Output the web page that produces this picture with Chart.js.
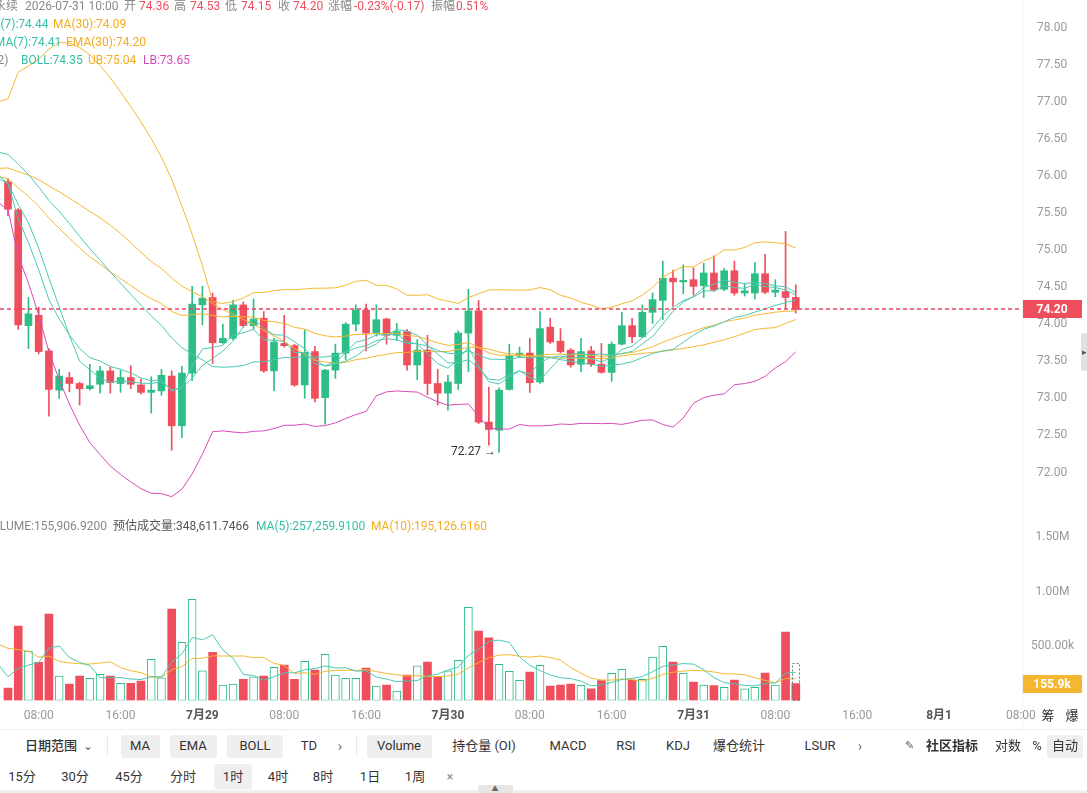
<!DOCTYPE html>
<html>
<head>
<meta charset="utf-8">
<script src="https://cdn.jsdelivr.net/npm/chart.js@4.4.1/dist/chart.umd.min.js"></script>
<style>
  body { margin: 0; width: 1087px; height: 793px; overflow: hidden; background: #fff; position: relative;
         font-family: Roboto, "Noto Sans CJK SC", sans-serif; }
  canvas { position: absolute; left: 0; }
  #priceCanvas { top: 0; }
  #volCanvas { top: 505px; }
  .lbl { position: absolute; white-space: nowrap; font-size: 12px; line-height: 14px; color: #888; }
  .tb { position: absolute; white-space: nowrap; font-size: 13px; line-height: 16px; color: #333; transform: translate(-50%, -50%); }
  .pill { position: absolute; background: #efefef; border-radius: 3px; }
  .sep { position: absolute; width: 1px; background: #e6e6e6; }
</style>
</head>
<body>
<canvas id="priceCanvas" width="1087" height="505"></canvas>
<canvas id="volCanvas" width="1087" height="224"></canvas>
<script>
// 1h candles, 2026-07-28 05:00 .. 2026-07-31 10:00
const opens = [75.92, 75.54, 73.98, 74.12, 73.64, 73.11, 73.28, 73.20, 73.13, 73.19,
  73.37, 73.20, 73.28, 73.18, 73.08, 73.10, 73.30, 72.63, 73.34, 74.26,
  74.36, 73.75, 73.81, 74.26, 73.98, 74.08, 73.37, 73.74, 73.71, 73.18,
  73.63, 73.01, 73.38, 73.61, 74.00, 74.19, 73.88, 74.07, 73.85, 73.90,
  73.45, 73.65, 73.20, 73.07, 73.20, 73.88, 74.18, 72.68, 72.57, 73.12,
  73.57, 73.61, 73.22, 73.96, 73.77, 73.65, 73.46, 73.64, 73.46, 73.35,
  73.73, 73.98, 73.83, 74.16, 74.32, 74.62, 74.57, 74.60, 74.52, 74.69,
  74.47, 74.72, 74.42, 74.42, 74.68, 74.43, 74.44, 74.36];
const highs = [75.96, 75.56, 74.36, 74.23, 73.67, 73.39, 73.35, 73.22, 73.46, 73.43,
  73.42, 73.38, 73.44, 73.26, 73.29, 73.39, 73.37, 73.43, 74.51, 74.51,
  74.42, 74.00, 74.32, 74.30, 74.34, 74.17, 73.81, 74.12, 73.73, 73.92,
  73.70, 73.39, 73.73, 74.02, 74.26, 74.27, 74.26, 74.08, 74.01, 73.93,
  73.79, 73.85, 73.39, 73.31, 73.91, 74.47, 74.32, 73.15, 73.14, 73.73,
  73.69, 73.81, 74.17, 74.08, 73.94, 73.67, 73.81, 73.70, 73.74, 73.76,
  74.16, 74.08, 74.26, 74.42, 74.85, 74.73, 74.80, 74.76, 74.82, 74.92,
  74.75, 74.85, 74.55, 74.83, 74.94, 74.60, 75.25, 74.53];
const lows = [75.46, 73.93, 73.67, 73.60, 72.76, 73.00, 73.09, 72.91, 73.11, 73.07,
  73.07, 73.08, 73.13, 73.06, 72.80, 73.04, 72.30, 72.47, 73.24, 73.99,
  73.47, 73.74, 73.79, 73.96, 73.93, 73.35, 73.10, 73.69, 73.16, 73.00,
  72.95, 72.65, 73.27, 73.52, 73.91, 73.64, 73.84, 73.73, 73.78, 73.38,
  73.25, 73.05, 72.91, 72.84, 73.12, 73.36, 72.66, 72.37, 72.27, 73.11,
  73.55, 73.08, 73.20, 73.74, 73.61, 73.42, 73.36, 73.43, 73.34, 73.23,
  73.72, 73.75, 73.82, 74.01, 74.06, 74.24, 74.41, 74.39, 74.36, 74.44,
  74.45, 74.39, 74.38, 74.34, 74.41, 74.37, 74.21, 74.15];
const closes = [75.55, 73.99, 74.14, 73.63, 73.12, 73.30, 73.20, 73.13, 73.17, 73.37,
  73.21, 73.28, 73.19, 73.08, 73.11, 73.31, 72.63, 73.34, 74.27, 74.35,
  73.75, 73.81, 74.26, 73.98, 74.07, 73.37, 73.76, 73.71, 73.18, 73.62,
  73.00, 73.38, 73.61, 74.00, 74.19, 73.88, 74.06, 73.85, 73.90, 73.45,
  73.65, 73.20, 73.07, 73.22, 73.88, 74.18, 72.68, 72.58, 73.11, 73.57,
  73.61, 73.21, 73.94, 73.76, 73.63, 73.45, 73.63, 73.46, 73.35, 73.73,
  73.98, 73.83, 74.16, 74.33, 74.62, 74.57, 74.59, 74.51, 74.69, 74.46,
  74.72, 74.42, 74.45, 74.68, 74.43, 74.46, 74.36, 74.20];
// volume, in thousands
const volumes = [114, 683, 454, 350, 794, 225, 151, 225, 204, 240,
  225, 158, 158, 179, 378, 209, 839, 534, 928, 273,
  442, 142, 151, 194, 218, 225, 305, 326, 194, 360,
  280, 424, 234, 204, 204, 298, 133, 142, 87, 234,
  317, 353, 218, 273, 369, 855, 638, 576, 332, 268,
  185, 261, 323, 133, 142, 151, 139, 106, 182, 250,
  286, 188, 194, 399, 497, 353, 250, 170, 142, 136,
  121, 188, 106, 121, 252, 142, 628, 155.9];
const estVolume = 348.6;

// closes / volumes before the visible window (only feed the indicators)
const preCloses = [74.90, 75.00, 74.95, 75.10, 75.05, 75.20, 75.15, 75.30, 75.25, 75.35,
  75.40, 75.45, 75.50, 75.55, 75.60, 75.70, 75.75, 75.80, 75.90, 75.95,
  76.20, 76.60, 76.95, 77.00, 76.75, 76.15, 76.55, 76.60, 76.50, 76.45,
  76.40, 76.30, 76.20, 76.05, 75.95, 75.90, 76.00, 75.95, 76.00, 75.92];
const preVolumes = [500, 800, 600, 900, 700, 700, 300, 300, 233, 143];

const priceTicks = [72, 72.5, 73, 73.5, 74, 74.5, 75, 75.5, 76, 76.5, 77, 77.5, 78];
const volTicks = [500, 1000, 1500];
const xTickIdx = [3, 11, 19, 27, 35, 43, 51, 59, 67, 75, 83, 91, 99];
const xTickText = ['08:00', '16:00', '7月29', '08:00', '16:00', '7月30', '08:00', '16:00', '7月31', '08:00', '16:00', '8月1', '08:00'];

const UP = '#2ebd85', DOWN = '#ef4e5c';
const TEAL = '#4cc9b3', ORANGE = '#f5b731', PINK = '#d64bb8';

Chart.defaults.font.family = 'Roboto, "Noto Sans CJK SC", sans-serif';

const xMin = -0.782, xMax = 99.11;
const isUp = closes.map((c, i) => c >= opens[i]);

// indicators
function sma(arr, n) {
  return arr.map((_, i) => i < n - 1 ? null : arr.slice(i - n + 1, i + 1).reduce((a, b) => a + b, 0) / n);
}
function ema(arr, n) {
  const k = 2 / (n + 1);
  let e = arr[0];
  return arr.map((v, i) => (e = i === 0 ? v : e + k * (v - e)));
}
function stdev(arr, n) {
  return arr.map((_, i) => {
    if (i < n - 1) return null;
    const w = arr.slice(i - n + 1, i + 1);
    const m = w.reduce((a, b) => a + b, 0) / n;
    return Math.sqrt(w.reduce((a, b) => a + (b - m) * (b - m), 0) / n);
  });
}
const allCloses = preCloses.concat(closes);
const ma7 = sma(allCloses, 7), ma30 = sma(allCloses, 30);
const ema7 = ema(allCloses, 7), ema30 = ema(allCloses, 30);
const bollMid = sma(allCloses, 20), bollSd = stdev(allCloses, 20);
const ub = bollMid.map((m, i) => m === null ? null : m + 2 * bollSd[i]);
const lb = bollMid.map((m, i) => m === null ? null : m - 2 * bollSd[i]);

const allVols = preVolumes.concat(volumes);
const vma5 = sma(allVols, 5), vma10 = sma(allVols, 10);

function pts(series, offset) {
  return series.map((v, i) => ({ x: i - offset, y: v })).filter(p => p.x >= -1 && p.y !== null);
}
function lineDs(series, offset, color) {
  return { type: 'line', data: pts(series, offset), borderColor: color, borderWidth: 1,
           pointRadius: 0, tension: 0, order: 0 };
}
function fitY(s) { s.width = 65; s.paddingTop = 0; s.paddingBottom = 0; }
function tickText(c) { return c && c.tick ? xTickText[xTickIdx.indexOf(c.tick.value)] || '' : ''; }

const P = preCloses.length;

const pricePlugin = {
  id: 'priceExtras',
  afterDraw(chart) {
    const { ctx, chartArea, scales } = chart;
    const y = Math.round(scales.y.getPixelForValue(closes[closes.length - 1]));
    ctx.save();
    ctx.strokeStyle = '#f0405e';
    ctx.lineWidth = 1.3;
    ctx.setLineDash([4, 3]);
    ctx.beginPath();
    ctx.moveTo(chartArea.left, y);
    ctx.lineTo(chartArea.right, y);
    ctx.stroke();
    ctx.setLineDash([]);
    ctx.fillStyle = DOWN;
    ctx.fillRect(chartArea.right, y - 9, 60, 18);
    ctx.fillStyle = '#fff';
    ctx.font = 'bold 12px Roboto';
    ctx.textAlign = 'center';
    ctx.textBaseline = 'middle';
    ctx.fillText(closes[closes.length - 1].toFixed(2), chartArea.right + 30, y + 1);

    // lowest low marker
    let mi = 0;
    lows.forEach((v, i) => { if (v < lows[mi]) mi = i; });
    const px = scales.x.getPixelForValue(mi);
    const py = scales.y.getPixelForValue(lows[mi]);
    ctx.fillStyle = '#333';
    ctx.font = '12px Roboto';
    ctx.textAlign = 'right';
    ctx.fillText(lows[mi].toFixed(2) + ' \u2192', px - 3, py);
    ctx.restore();
  }
};

new Chart(document.getElementById('priceCanvas'), {
  data: {
    datasets: [
      lineDs(ma7, P, TEAL), lineDs(ema7, P, TEAL), lineDs(bollMid, P, TEAL),
      lineDs(ma30, P, ORANGE), lineDs(ema30, P, ORANGE), lineDs(ub, P, ORANGE),
      lineDs(lb, P, PINK),
      { type: 'bar', data: closes.map((c, i) => ({ x: i, y: [opens[i], c] })),
        backgroundColor: isUp.map(u => u ? UP : DOWN), barThickness: 7, minBarLength: 1,
        grouped: false, order: 1 },
      { type: 'bar', data: closes.map((c, i) => ({ x: i, y: [lows[i], highs[i]] })),
        backgroundColor: isUp.map(u => u ? UP : DOWN), barThickness: 1,
        grouped: false, order: 2 }
    ]
  },
  options: {
    responsive: false, animation: false,
    layout: { padding: 0, autoPadding: false },
    plugins: { legend: { display: false }, tooltip: { enabled: false } },
    scales: {
      x: { type: 'linear', min: xMin, max: xMax, display: false, offset: false },
      y: {
        position: 'right', min: 71.5618, max: 78.3708,
        afterFit: fitY,
        afterBuildTicks(s) { s.ticks = priceTicks.map(v => ({ value: v })); },
        ticks: { callback: v => v.toFixed(2), color: '#999', font: { size: 12 }, crossAlign: 'center', padding: 15 },
        grid: { display: false, drawTicks: false }, border: { display: false }
      }
    }
  },
  plugins: [pricePlugin]
});

const volPlugin = {
  id: 'volExtras',
  afterDraw(chart) {
    const { ctx, chartArea, scales } = chart;
    const last = volumes.length - 1;
    const px = scales.x.getPixelForValue(last);
    const yTop = scales.y.getPixelForValue(estVolume);
    const yBase = scales.y.getPixelForValue(0);
    ctx.save();
    ctx.strokeStyle = '#777';
    ctx.lineWidth = 1;
    ctx.setLineDash([2, 2]);
    ctx.strokeRect(Math.round(px - 4) + 0.5, Math.round(yTop) + 0.5, 7, Math.round(yBase - yTop) - 1);
    ctx.setLineDash([]);
    const y = Math.round(scales.y.getPixelForValue(volumes[last]));
    ctx.fillStyle = ORANGE;
    ctx.fillRect(chartArea.right, y - 9, 60, 18);
    ctx.fillStyle = '#fff';
    ctx.font = 'bold 12px Roboto';
    ctx.textAlign = 'center';
    ctx.textBaseline = 'middle';
    ctx.fillText(volumes[last].toFixed(1) + 'k', chartArea.right + 30, y + 1);
    ctx.restore();
  }
};

new Chart(document.getElementById('volCanvas'), {
  data: {
    datasets: [
      lineDs(vma5, preVolumes.length, TEAL), lineDs(vma10, preVolumes.length, ORANGE),
      { type: 'bar', data: volumes.map((v, i) => ({ x: i, y: v })),
        backgroundColor: isUp.map(u => u ? '#fff' : DOWN),
        borderColor: isUp.map(u => u ? UP : DOWN),
        borderWidth: isUp.map(u => u ? 1 : 0), borderSkipped: false,
        barThickness: 8, grouped: false, order: 1 }
    ]
  },
  options: {
    responsive: false, animation: false,
    layout: { padding: 0, autoPadding: false },
    plugins: { legend: { display: false }, tooltip: { enabled: false } },
    scales: {
      x: {
        type: 'linear', min: xMin, max: xMax, offset: false,
        afterFit(s) { s.height = 28.5; s.paddingLeft = 0; s.paddingRight = 0; },
        afterBuildTicks(s) { s.ticks = xTickIdx.map(v => ({ value: v })); },
        ticks: {
          autoSkip: false, maxRotation: 0, padding: 8,
          callback: v => xTickText[xTickIdx.indexOf(v)],
          color: c => tickText(c).includes('月') ? '#555' : '#999',
          font: c => ({ size: 12, weight: tickText(c).includes('月') ? 'bold' : 'normal' })
        },
        grid: { display: false, drawTicks: false }, border: { display: false }
      },
      y: {
        position: 'right', min: 0, max: 1793.6,
        afterFit: fitY,
        afterBuildTicks(s) { s.ticks = volTicks.map(v => ({ value: v })); },
        ticks: { callback: v => v >= 1000 ? (v / 1000).toFixed(2) + 'M' : v.toFixed(2) + 'k',
                 color: '#999', font: { size: 12 }, crossAlign: 'center', padding: 9 },
        grid: { display: false, drawTicks: false }, border: { display: false }
      }
    }
  },
  plugins: [volPlugin]
});

// legends and toolbar
function put(text, x, y, css, cls) {
  const el = document.createElement('div');
  el.className = cls || 'lbl';
  el.textContent = text;
  el.style.left = x + 'px';
  el.style.top = y + 'px';
  if (!cls) el.style.transform = 'translateY(-50%)';
  Object.assign(el.style, css || {});
  document.body.appendChild(el);
}
function box(cls, x, y, w, h, css) {
  const el = document.createElement('div');
  el.className = cls;
  Object.assign(el.style, { left: x + 'px', top: y + 'px', width: w + 'px', height: h + 'px' }, css || {});
  document.body.appendChild(el);
}
const RED_T = { color: DOWN }, TEAL_T = { color: '#35bfa6' }, OR_T = { color: '#f2ad1f' }, PK_T = { color: PINK };

[['永续', -6, {}], ['2026-07-31 10:00', 25, {}], ['开', 124, {}], ['74.36', 139, RED_T],
 ['高', 174, {}], ['74.53', 190, RED_T], ['低', 225, {}], ['74.15', 241, RED_T],
 ['收', 278, {}], ['74.20', 293, RED_T], ['涨幅', 328, {}], ['-0.23%(-0.17)', 354, RED_T],
 ['振幅', 431, {}], ['0.51%', 456, RED_T]].forEach(p => put(p[0], p[1], 6, p[2]));
put('MA(7):74.44', -18, 24, TEAL_T);
put('MA(30):74.09', 53, 24, OR_T);
put('EMA(7):74.41', -12, 42, TEAL_T);
put('EMA(30):74.20', 66, 42, OR_T);
put('BOLL(20, 2)', -54, 60, {});
put('BOLL:74.35', 21, 60, TEAL_T);
put('UB:75.04', 88, 60, OR_T);
put('LB:73.65', 143, 60, PK_T);

put('VOLUME:155,906.9200', -16, 526, {});
put('预估成交量:348,611.7466', 113, 526, { color: '#555' });
put('MA(5):257,259.9100', 256, 526, TEAL_T);
put('MA(10):195,126.6160', 371, 526, OR_T);

// right axis edge
box('sep', 1022, 0, 1, 729, { background: '#f2f2f2' });
box('sep', 1081, 333, 6, 38, { background: '#e2e2e2', borderRadius: '3px 0 0 3px' });
put('\u25B8', 1084, 352, { fontSize: '9px', color: '#555' }, 'tb');
put('筹', 1048, 716, { fontSize: '13px' }, 'tb');
put('爆', 1072, 716, { fontSize: '13px' }, 'tb');

// toolbar
box('sep', 0, 729, 1087, 1, { background: '#eeeeee' });
box('pill', 121, 735, 39, 23);
box('pill', 170, 735, 47, 23);
box('pill', 227, 735, 56, 23);
box('pill', 367, 735, 65, 23);
box('pill', 1047, 735, 36, 23);
box('pill', 214, 764, 38, 25);
box('sep', 107, 737, 1, 19);
box('sep', 356, 737, 1, 19);
const row2 = 746;
[['日期范围', 51, { fontWeight: '500' }], ['\u2304', 88, { fontSize: '12px', color: '#666' }],
 ['MA', 140], ['EMA', 193], ['BOLL', 255], ['TD', 309], ['\u203A', 340, { color: '#777', fontSize: '15px' }],
 ['Volume', 399], ['持仓量 (OI)', 484], ['MACD', 568], ['RSI', 626], ['KDJ', 678], ['爆仓统计', 739],
 ['LSUR', 820], ['\u203A', 860, { color: '#777', fontSize: '15px' }], ['\u270E', 909, { fontSize: '11px', color: '#666' }],
 ['社区指标', 952, { fontWeight: 'bold' }], ['对数', 1008], ['%', 1037], ['自动', 1065]
].forEach(p => put(p[0], p[1], row2, p[2] || {}, 'tb'));
const row3 = 777;
[['15分', 22], ['30分', 75], ['45分', 129], ['分时', 183], ['1时', 233], ['4时', 278], ['8时', 323],
 ['1日', 370], ['1周', 415], ['\u00D7', 450, { color: '#888', fontSize: '12px' }]
].forEach(p => put(p[0], p[1], row3, p[2] || {}, 'tb'));
box('sep', 0, 790, 1087, 3, { background: '#f0f0f0' });
box('sep', 478, 785, 35, 8, { background: '#e6e6e6', borderRadius: '3px 3px 0 0' });
put('\u25B2', 495, 789, { fontSize: '7px', color: '#666' }, 'tb');
</script>
</body>
</html>
